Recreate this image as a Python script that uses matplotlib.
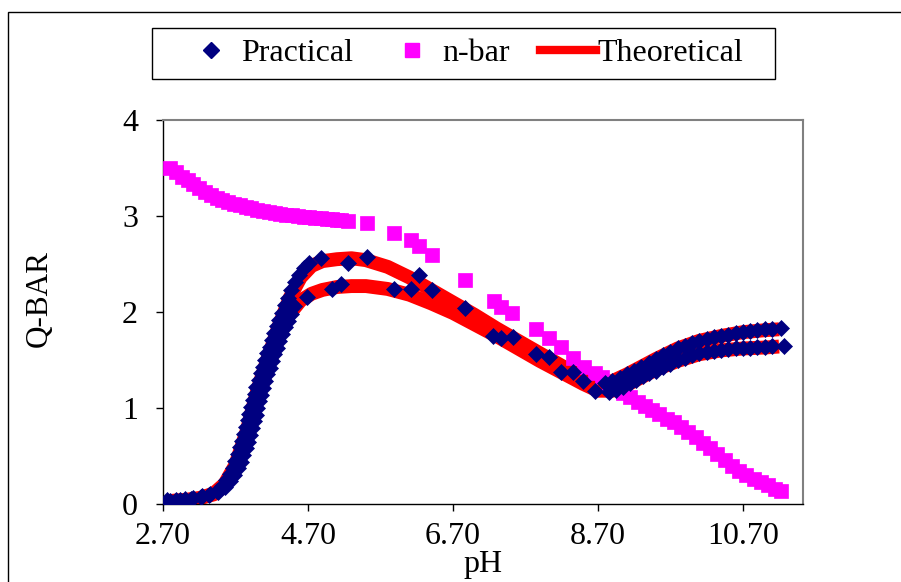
import matplotlib
matplotlib.use("Agg")
import matplotlib.pyplot as plt
from matplotlib.lines import Line2D
from matplotlib.patches import Rectangle

plt.rcParams['font.family'] = ['Liberation Serif', 'DejaVu Serif']

# Practical, run A (pH, Q-bar)
prac_a_ph = [2.76, 2.88, 3.00, 3.12, 3.24, 3.35, 3.44, 3.51, 3.57, 3.62, 3.66, 3.70, 3.73, 3.76,
             3.79, 3.82, 3.84, 3.87, 3.89, 3.92, 3.94, 3.97, 3.99, 4.02, 4.05, 4.08, 4.11, 4.14,
             4.17, 4.20, 4.23, 4.27, 4.30, 4.34, 4.38, 4.42, 4.47, 4.52, 4.58, 4.65, 4.72,
             4.88, 5.25, 5.51, 6.23, 6.41, 7.25, 7.53, 8.02, 8.19, 8.50,
             8.80, 8.90, 9.00, 9.10, 9.20, 9.30, 9.40, 9.50, 9.60, 9.70, 9.80, 9.90, 10.00,
             10.10, 10.20, 10.30, 10.40, 10.50, 10.60, 10.70, 10.80, 10.90, 11.00, 11.10, 11.23]
prac_a_q = [0.04, 0.04, 0.05, 0.06, 0.08, 0.10, 0.14, 0.19, 0.25, 0.31, 0.38, 0.45, 0.52, 0.59,
            0.66, 0.73, 0.80, 0.87, 0.94, 1.01, 1.08, 1.15, 1.22, 1.29, 1.36, 1.43, 1.50, 1.57,
            1.64, 1.71, 1.78, 1.85, 1.92, 1.99, 2.07, 2.15, 2.23, 2.31, 2.39, 2.46, 2.51,
            2.56, 2.51, 2.57, 2.39, 2.23, 1.75, 1.74, 1.53, 1.38, 1.28,
            1.26, 1.28, 1.31, 1.35, 1.39, 1.43, 1.47, 1.51, 1.55, 1.58, 1.62, 1.65, 1.68,
            1.70, 1.72, 1.74, 1.75, 1.76, 1.78, 1.79, 1.80, 1.81, 1.82, 1.82, 1.83]

# Practical, run B
prac_b_ph = [2.80, 2.94, 3.08, 3.22, 3.34, 3.46, 3.55, 3.62, 3.68, 3.73, 3.77, 3.81, 3.84, 3.87,
             3.90, 3.93, 3.95, 3.98, 4.00, 4.03, 4.05, 4.08, 4.11, 4.14, 4.17, 4.20, 4.23, 4.27,
             4.30, 4.34, 4.38, 4.42, 4.46, 4.51,
             4.68, 5.03, 5.16, 5.89, 6.12, 6.86, 7.36, 7.85, 8.35, 8.66,
             8.85, 8.95, 9.05, 9.14, 9.23, 9.32, 9.41, 9.50, 9.60, 9.70, 9.80, 9.90, 10.00,
             10.10, 10.20, 10.30, 10.40, 10.50, 10.60, 10.70, 10.80, 10.90, 11.00, 11.10, 11.27]
prac_b_q = [0.03, 0.04, 0.05, 0.07, 0.09, 0.13, 0.18, 0.24, 0.30, 0.37, 0.44, 0.51, 0.58, 0.65,
            0.72, 0.79, 0.86, 0.93, 1.00, 1.07, 1.14, 1.21, 1.28, 1.35, 1.42, 1.49, 1.56, 1.63,
            1.70, 1.77, 1.84, 1.91, 1.98, 2.06,
            2.16, 2.24, 2.29, 2.24, 2.24, 2.04, 1.73, 1.56, 1.37, 1.18,
            1.17, 1.19, 1.22, 1.26, 1.29, 1.33, 1.36, 1.39, 1.43, 1.46, 1.50, 1.52, 1.55,
            1.57, 1.58, 1.59, 1.60, 1.61, 1.62, 1.63, 1.63, 1.64, 1.64, 1.65, 1.65]

# n-bar
nbar_ph = [2.80, 2.88, 2.96, 3.04, 3.12, 3.20, 3.28, 3.36, 3.44, 3.52, 3.60, 3.68, 3.76, 3.84,
           3.92, 4.00, 4.08, 4.16, 4.24, 4.32, 4.40, 4.48, 4.56, 4.64, 4.72, 4.80, 4.88, 4.96,
           5.03, 5.10, 5.16, 5.25,
           5.52, 5.89, 6.12, 6.23, 6.41, 6.86, 7.26, 7.37, 7.52, 7.85, 8.03, 8.19, 8.36, 8.51, 8.66,
           8.75, 8.85, 8.95, 9.05, 9.15, 9.25, 9.35, 9.45, 9.55, 9.65, 9.75, 9.85, 9.95,
           10.05, 10.15, 10.25, 10.35, 10.45, 10.55, 10.65, 10.75, 10.85, 10.95, 11.05, 11.15, 11.22]
nbar_q = [3.50, 3.46, 3.41, 3.37, 3.33, 3.29, 3.25, 3.22, 3.19, 3.17, 3.15, 3.13, 3.11, 3.09,
          3.08, 3.06, 3.05, 3.04, 3.03, 3.02, 3.01, 3.01, 3.00, 2.99, 2.99, 2.98, 2.98, 2.97,
          2.97, 2.96, 2.96, 2.95,
          2.93, 2.82, 2.75, 2.69, 2.59, 2.33, 2.11, 2.05, 1.99, 1.82, 1.73, 1.64, 1.52, 1.43, 1.36,
          1.32, 1.26, 1.21, 1.16, 1.11, 1.06, 1.02, 0.98, 0.94, 0.89, 0.85, 0.80, 0.75,
          0.70, 0.64, 0.58, 0.52, 0.46, 0.40, 0.34, 0.30, 0.26, 0.23, 0.20, 0.16, 0.14]

# Theoretical curves
theo_a_ph = [2.76, 3.00, 3.20, 3.40, 3.55, 3.70, 3.85, 4.00, 4.15, 4.30, 4.45, 4.60, 4.75, 4.90,
             5.10, 5.30, 5.50, 5.80, 6.10, 6.40, 6.70, 7.00, 7.30, 7.60, 7.90, 8.20, 8.50, 8.70,
             8.90, 9.10, 9.30, 9.50, 9.80, 10.10, 10.40, 10.70, 11.00, 11.20]
theo_a_q = [0.03, 0.04, 0.06, 0.11, 0.21, 0.41, 0.75, 1.18, 1.53, 1.86, 2.15, 2.36, 2.48, 2.53,
            2.55, 2.56, 2.54, 2.47, 2.36, 2.23, 2.10, 1.97, 1.83, 1.70, 1.57, 1.44, 1.32, 1.26,
            1.28, 1.35, 1.43, 1.51, 1.62, 1.70, 1.75, 1.79, 1.81, 1.82]
theo_b_ph = [2.78, 3.00, 3.20, 3.40, 3.55, 3.70, 3.85, 4.00, 4.15, 4.30, 4.45, 4.60, 4.75, 4.90,
             5.10, 5.30, 5.50, 5.80, 6.10, 6.40, 6.70, 7.00, 7.30, 7.60, 7.90, 8.20, 8.50, 8.70,
             8.90, 9.10, 9.30, 9.50, 9.80, 10.10, 10.40, 10.70, 11.00, 11.20]
theo_b_q = [0.03, 0.04, 0.06, 0.10, 0.19, 0.36, 0.68, 1.08, 1.43, 1.74, 1.98, 2.12, 2.19, 2.23,
            2.26, 2.27, 2.27, 2.24, 2.18, 2.09, 1.99, 1.87, 1.75, 1.62, 1.49, 1.37, 1.25, 1.18,
            1.18, 1.24, 1.32, 1.40, 1.49, 1.56, 1.60, 1.62, 1.63, 1.64]

x_ticks = [2.7, 4.7, 6.7, 8.7, 10.7]
x_tick_labels = ["2.70", "4.70", "6.70", "8.70", "10.70"]
y_ticks = [0, 1, 2, 3, 4]

navy = '#000080'
magenta = '#FF00FF'
red = '#FF0000'
fs = 23

fig = plt.figure(figsize=(9.01, 5.82), dpi=100)
ax = fig.add_axes([163 / 901, 1 - 504 / 582, 640 / 901, 384 / 582])

for ph, q in [(theo_a_ph, theo_a_q), (theo_b_ph, theo_b_q)]:
    ax.plot(ph, q, color=red, lw=10, solid_capstyle='butt', zorder=2)
ax.plot(nbar_ph, nbar_q, ls='none', marker='s', ms=10, color=magenta, mec=magenta, mew=0.5, zorder=3)
for ph, q in [(prac_a_ph, prac_a_q), (prac_b_ph, prac_b_q)]:
    ax.plot(ph, q, ls='none', marker='D', ms=8.4, color=navy, mec=navy, mew=0.5, zorder=4)

ax.set_xlim(2.7, 11.53)
ax.set_ylim(0, 4)
ax.set_xticks(x_ticks)
ax.set_xticklabels(x_tick_labels)
ax.set_yticks(y_ticks)
ax.tick_params(axis='both', direction='out', length=5, width=1, labelsize=fs, color='black')
ax.tick_params(axis='x', pad=8)
ax.tick_params(axis='y', pad=13)

for side in ['top', 'right']:
    ax.spines[side].set_color('#808080')
    ax.spines[side].set_linewidth(1.5)
for side in ['left', 'bottom']:
    ax.spines[side].set_color('black')
    ax.spines[side].set_linewidth(1)

ax.set_xlabel('pH', fontsize=fs, va='bottom')
ax.xaxis.set_label_coords(0.5, -0.196)
ax.set_ylabel('Q-BAR', fontsize=22.5)
ax.yaxis.set_label_coords(-0.17, 0.536)

handles = [
    Line2D([], [], ls='none', marker='D', ms=8.4, color=navy, mec=navy),
    Line2D([], [], ls='none', marker='s', ms=10, color=magenta, mec=magenta),
    Line2D([], [], color=red, lw=6),
]
fig.legend(handles, ['Practical', 'n-bar', 'Theoretical'], loc='center',
           bbox_to_anchor=(463.5 / 901, 1 - 53.5 / 582), ncol=3, frameon=False,
           fontsize=fs, handlelength=1.75, handletextpad=0.07, columnspacing=0.95,
           borderpad=0.2)

# legend box and outer chart frame
fig.add_artist(Rectangle((152 / 901, 1 - 79 / 582), 623 / 901, 51 / 582,
                         transform=fig.transFigure, fill=False, ec='black', lw=1))
fig.add_artist(Rectangle((8 / 901, -0.1), 1.2, 1 - 12 / 582 + 0.1,
                         transform=fig.transFigure, fill=False, ec='black', lw=1))

fig.savefig('out.png', dpi=100)
